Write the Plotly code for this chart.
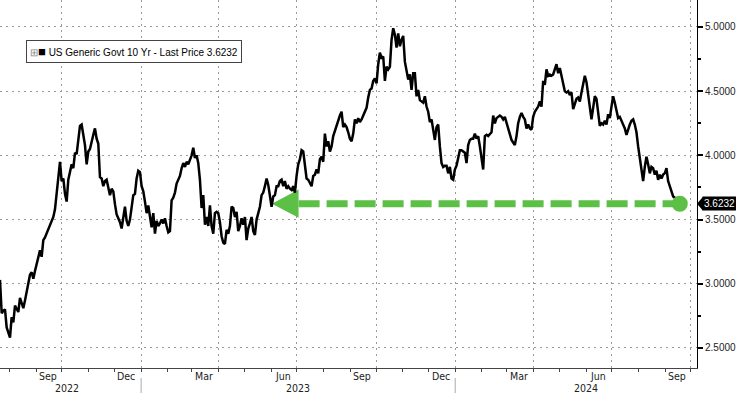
import pandas as pd
import plotly.graph_objects as go

# ---------------- data ----------------
START_DATE = "2022-07-21"
END_DATE = "2024-09-18"

yield_part1 = [
    3.03, 2.77, 2.79, 2.80, 2.66, 2.62, 2.58, 2.74, 2.70, 2.83,
    2.80, 2.78, 2.89, 2.84, 2.81, 2.87, 2.93, 2.99, 3.07, 3.09,
    3.04, 3.10, 3.15, 3.22, 3.26, 3.21, 3.34, 3.36, 3.39, 3.42,
    3.45, 3.49, 3.52, 3.58, 3.71, 3.82, 3.95, 3.80, 3.82, 3.70,
    3.64, 3.81, 3.88, 3.93, 3.90, 4.02, 4.01, 4.10, 4.23, 4.24,
    4.15, 4.08, 3.93, 4.03, 4.05, 4.12, 4.16, 4.21, 4.13, 4.09,
    3.83, 3.82, 3.76, 3.80, 3.81, 3.75, 3.69, 3.74, 3.72, 3.62,
    3.54, 3.51, 3.48, 3.43, 3.54, 3.60, 3.49, 3.45, 3.50, 3.62,
    3.69, 3.70, 3.82, 3.88, 3.87, 3.76, 3.72, 3.64, 3.55, 3.61,
    3.52, 3.44, 3.55, 3.39, 3.49, 3.45, 3.47, 3.50, 3.47, 3.51,
    3.45, 3.40,
]
yield_part2 = [
    3.41, 3.65, 3.67, 3.71, 3.78, 3.81, 3.84, 3.90, 3.94, 3.91,
    3.95, 3.93, 3.97, 4.00, 4.06, 3.98, 4.00, 3.94, 3.81, 3.59,
    3.69, 3.46, 3.52, 3.45, 3.61, 3.45, 3.39, 3.55, 3.56, 3.55,
    3.48, 3.37, 3.32, 3.31, 3.42, 3.39, 3.45, 3.60, 3.59, 3.52,
    3.56, 3.41, 3.45, 3.51, 3.46, 3.52, 3.34, 3.43, 3.47, 3.52,
    3.41, 3.38, 3.50, 3.56, 3.60, 3.69, 3.71, 3.76, 3.82, 3.77,
    3.69, 3.60, 3.68, 3.69, 3.76, 3.76, 3.80, 3.81, 3.76, 3.80,
    3.74, 3.76, 3.74, 3.73, 3.76, 3.71, 3.84, 3.93, 3.97, 4.04,
    4.03, 3.94, 3.82, 3.81, 3.78, 3.76, 3.84, 3.85, 3.89, 3.86,
    3.97, 3.99, 3.95, 4.17, 4.07, 4.11, 4.03, 4.07, 4.15, 4.19,
    4.24, 4.27,
]
yield_part3 = [
    4.31, 4.34, 4.22, 4.24, 4.22, 4.18, 4.13, 4.11, 4.17, 4.28,
    4.25, 4.29, 4.26, 4.28, 4.31, 4.33, 4.37, 4.45, 4.51, 4.52,
    4.58, 4.60, 4.56, 4.71, 4.80, 4.76, 4.77, 4.58, 4.69, 4.67,
    4.69, 4.90, 4.99, 4.94, 4.84, 4.95, 4.85, 4.90, 4.93, 4.73,
    4.64, 4.59, 4.63, 4.51, 4.64, 4.64, 4.46, 4.51, 4.43, 4.42,
    4.41, 4.46, 4.38, 4.34, 4.26, 4.28, 4.20, 4.12, 4.22, 4.24,
    4.07, 3.94, 3.91, 3.92, 3.92, 3.86, 3.91, 3.82, 3.81, 3.89,
    3.92, 3.99, 4.04, 4.04, 4.03, 4.02, 3.94, 4.08, 4.12, 4.13,
    4.13, 4.17, 4.13, 4.15, 4.07, 3.96, 3.89, 4.15, 4.16, 4.15,
    4.17, 4.18, 4.31, 4.25, 4.29, 4.30, 4.31, 4.30, 4.28, 4.30,
    4.25, 4.20,
]
yield_part4 = [
    4.16, 4.12, 4.10, 4.08, 4.15, 4.25, 4.30, 4.33, 4.30, 4.28,
    4.21, 4.24, 4.21, 4.20, 4.30, 4.34, 4.36, 4.38, 4.42, 4.38,
    4.58, 4.55, 4.67, 4.62, 4.63, 4.62, 4.63, 4.67, 4.71, 4.64,
    4.68, 4.62, 4.57, 4.50, 4.49, 4.50, 4.47, 4.49, 4.36, 4.40,
    4.44, 4.45, 4.42, 4.49, 4.55, 4.62, 4.57, 4.46, 4.38, 4.28,
    4.37, 4.46, 4.44, 4.31, 4.23, 4.25, 4.24, 4.27, 4.24, 4.32,
    4.29, 4.38, 4.46, 4.41, 4.34, 4.29, 4.30, 4.27, 4.23, 4.21,
    4.16, 4.21, 4.24, 4.27, 4.28, 4.24, 4.18, 4.07, 3.97, 3.86,
    3.80, 3.91, 3.99, 3.93, 3.86, 3.91, 3.90, 3.85, 3.88, 3.81,
    3.85, 3.82, 3.85, 3.86, 3.90, 3.80, 3.76, 3.73, 3.68, 3.67,
    3.65, 3.64, 3.6232,
]
last_price = 3.6232
series_name = "US Generic Govt 10 Yr - Last Price"

month_labels = ["Sep", "Dec", "Mar", "Jun", "Sep", "Dec", "Mar", "Jun", "Sep"]
month_label_dates = ["2022-09-15", "2022-12-15", "2023-03-15", "2023-06-15",
                     "2023-09-15", "2023-12-15", "2024-03-15", "2024-06-15",
                     "2024-09-15"]
year_labels = ["2022", "2023", "2024"]
year_label_dates = ["2022-10-07", "2023-07-02", "2024-06-01"]
year_breaks = ["2023-01-01", "2024-01-01"]
grid_dates = ["2022-10-01", "2023-01-01", "2023-04-01", "2023-07-01",
              "2023-10-01", "2024-01-01", "2024-04-01", "2024-07-01",
              "2024-10-01"]
y_ticks = [2.5, 3.0, 3.5, 4.0, 4.5, 5.0]
y_ticktext = ["2.5000", "3.0000", "3.5000", "4.0000", "4.5000", "5.0000"]
X_RANGE = [START_DATE, "2024-10-08"]
Y_RANGE = [2.344, 5.21]

arrow_tip_date = "2023-06-02"
arrow_base_date = "2023-07-03"
arrow_half_height = 0.11

# ---------------- figure ----------------
values = yield_part1 + yield_part2 + yield_part3 + yield_part4
dates = pd.date_range(START_DATE, END_DATE, periods=len(values))

GREEN = "#5cbf46"
FONT = "Liberation Sans Narrow, DejaVu Sans Condensed, Liberation Sans, sans-serif"
GRID = "#9a9a9a"

fig = go.Figure()

# arrowhead
fig.add_trace(go.Scatter(
    x=[arrow_tip_date, arrow_base_date, arrow_base_date, arrow_tip_date],
    y=[last_price, last_price + arrow_half_height,
       last_price - arrow_half_height, last_price],
    mode="lines", fill="toself", fillcolor=GREEN,
    line=dict(width=0, color=GREEN), hoverinfo="skip", showlegend=False))

# dashed green line
fig.add_trace(go.Scatter(
    x=[arrow_base_date, dates[-1]], y=[last_price, last_price],
    mode="lines", line=dict(color=GREEN, width=7, dash="21px,7px"),
    hoverinfo="skip", showlegend=False))

# main series
fig.add_trace(go.Scatter(
    x=dates, y=values, mode="lines",
    line=dict(color="black", width=2.5),
    name=series_name, showlegend=False))

# end marker
fig.add_trace(go.Scatter(
    x=[dates[-1]], y=[values[-1]], mode="markers",
    marker=dict(color=GREEN, size=16, line=dict(width=0)),
    hoverinfo="skip", showlegend=False))

annotations = []
for d, t in zip(month_label_dates, month_labels):
    annotations.append(dict(x=d, y=0, xref="x", yref="paper", text=t,
                            showarrow=False, yanchor="middle", yshift=-8,
                            font=dict(family=FONT, size=10.5, color="#222")))
for d, t in zip(year_label_dates, year_labels):
    annotations.append(dict(x=d, y=0, xref="x", yref="paper", text=t,
                            showarrow=False, yanchor="middle", yshift=-19.5,
                            font=dict(family=FONT, size=10.5, color="#222")))

# legend box
annotations.append(dict(
    x=26 / 697, y=1 - 40 / 368, xref="paper", yref="paper",
    xanchor="left", yanchor="top", showarrow=False,
    text="<span style='color:#888'>⊞</span><span style='font-size:13px'>■</span> "
         + series_name + " " + f"{last_price:.4f}",
    font=dict(family="Liberation Sans, sans-serif", size=10, color="black"),
    bgcolor="white", bordercolor="#444", borderwidth=1, borderpad=3))

# last price label
annotations.append(dict(
    x=1, y=last_price, xref="paper", yref="y", xanchor="left",
    yanchor="middle", xshift=5, showarrow=False,
    text=f"{last_price:.4f}", bgcolor="black",
    font=dict(family="Liberation Sans, sans-serif", size=10, color="white"),
    borderpad=1))

shapes = []
for d in year_breaks:
    shapes.append(dict(type="line", xref="x", yref="paper", x0=d, x1=d,
                       y0=-10 / 368, y1=-25 / 368,
                       line=dict(color="#aaaaaa", width=1)))
# pointer of the last-price label
shapes.append(dict(type="path", xref="paper", yref="y",
                   xsizemode="pixel", ysizemode="pixel",
                   xanchor=1, yanchor=last_price,
                   path="M 0 0 L 6 7 L 6 -7 Z",
                   fillcolor="black", line=dict(width=0)))

fig.update_layout(
    width=736, height=393, autosize=False,
    margin=dict(l=0, r=39, t=0, b=25),
    paper_bgcolor="white", plot_bgcolor="white",
    showlegend=False,
    annotations=annotations, shapes=shapes,
    xaxis=dict(
        type="date", range=X_RANGE, tickvals=grid_dates,
        showticklabels=False, showgrid=True, gridcolor=GRID,
        griddash="2px,4px", gridwidth=1,
        ticks="outside", ticklen=3, tickcolor="#444",
        showline=True, linecolor="#444", linewidth=1,
        zeroline=False,
        minor=dict(dtick="M1", tick0="2022-01-01", ticks="outside",
                   ticklen=3, tickcolor="#444", showgrid=False),
    ),
    yaxis=dict(
        side="right", range=Y_RANGE, tickvals=y_ticks, ticktext=y_ticktext,
        ticks="outside", ticklen=5, tickwidth=2, tickcolor="black",
        showline=True, linecolor="black", linewidth=1,
        showgrid=True, gridcolor=GRID, griddash="2px,4px", gridwidth=1,
        zeroline=False,
        tickfont=dict(family="Liberation Sans, sans-serif", size=10,
                      color="#222"),
        minor=dict(dtick=0.25, tick0=2.5, ticks="outside", ticklen=3,
                   tickcolor="black", showgrid=False),
    ),
)

fig.write_html(
    "out.html",
    config={"displayModeBar": False},
    post_script="document.body.style.margin='0';document.body.style.padding='0';",
)
